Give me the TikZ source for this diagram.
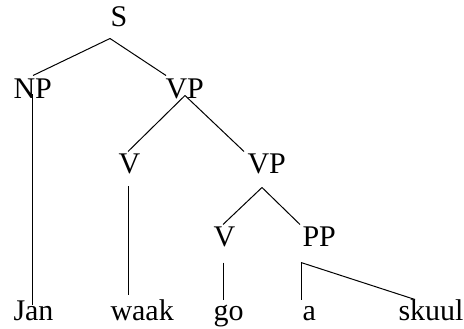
\documentclass[tikz,border=0pt]{standalone}
\usepackage{fontspec}
\setmainfont{Liberation Serif}
\begin{document}
\begin{tikzpicture}[x=1pt, y=-1pt, line width=1pt]
\tikzset{lbl/.style={inner sep=0pt, anchor=base west, text height=20pt, text depth=7pt, font=\fontsize{30}{36}\selectfont}}
\useasboundingbox (0,0) rectangle (464,329);

% Categorias
\node[lbl] (s) at (110,27) {S};
\node[lbl] (np) at (13,99) {NP};
\node[lbl] (vp) at (165,99) {VP};
\node[lbl] (v1) at (118,173) {V};
\node[lbl] (vp2) at (247,173) {VP};
\node[lbl] (v2) at (213,247) {V};
\node[lbl] (pp) at (302,247) {PP};

% Palavras
\node[lbl] (jan) at (13,320) {Jan};
\node[lbl] (waak) at (110,320) {waak};
\node[lbl] (go) at (213,320) {go};
\node[lbl] (a) at (302,320) {a};
\node[lbl] (skuul) at (398,320) {skuul};

% Ramos
\draw ([yshift=-4pt]s.south west) -- ([xshift=20pt, yshift=3pt]np.north west);
\draw ([yshift=-4pt]s.south west) -- ([xshift=1pt, yshift=3pt]vp.north west);
\draw ([xshift=19pt, yshift=-16pt]np.north west) -- ([xshift=19pt, yshift=-5pt]jan.north west);
\draw ([xshift=20pt, yshift=-17pt]vp.north west) -- ([xshift=10pt, yshift=1pt]v1.north west);
\draw ([xshift=20pt, yshift=-17pt]vp.north west) -- ([xshift=-3pt, yshift=1pt]vp2.north west);
\draw ([xshift=10pt, yshift=-6pt]v1.south west) -- ([xshift=18pt, yshift=5pt]waak.north west);
\draw ([xshift=15pt, yshift=-7pt]vp2.south west) -- ([xshift=10pt, yshift=2pt]v2.north west);
\draw ([xshift=15pt, yshift=-7pt]vp2.south west) -- ([xshift=-2pt, yshift=2pt]pp.north west);
\draw ([xshift=10pt, yshift=-8pt]v2.south west) -- ([xshift=10pt]go.north west);
\draw ([xshift=-1pt, yshift=-8pt]pp.south west) -- ([xshift=-1pt]a.north west);
\draw ([xshift=-1pt, yshift=-8pt]pp.south west) -- ([xshift=17pt]skuul.north west);
\end{tikzpicture}
\end{document}
